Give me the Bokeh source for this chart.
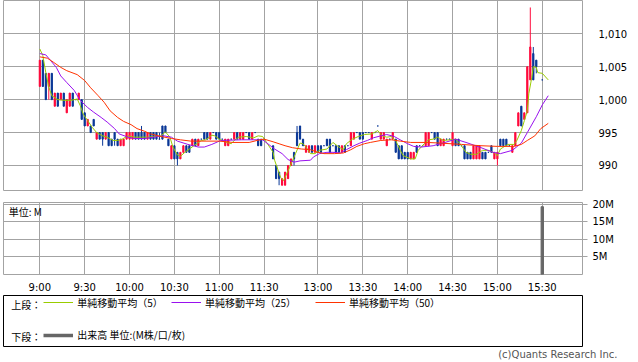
import numpy as np
from bokeh.plotting import figure
from bokeh.layouts import column
from bokeh.models import (ColumnDataSource, FixedTicker, NumeralTickFormatter, Legend,
                          LegendItem, Label, Range1d, Title)
from bokeh.core.properties import value
from bokeh.embed import file_html
from bokeh.resources import INLINE

# ---------------- data ----------------
tick_labels = ["9:00", "9:30", "10:00", "10:30", "11:00", "11:30",
               "13:00", "13:30", "14:00", "14:30", "15:00", "15:30"]
price_ticks = [990, 995, 1000, 1005, 1010]
volume_ticks = [5, 10, 15, 20]
volume_tick_labels = ["5M", "10M", "15M", "20M"]

# morning session, 2-minute bars from 9:00
am_open = [1002, 1006, 1004, 1002, 1004, 999, 1001, 1000, 1001, 998,
           999, 1001, 1000, 1000, 1000, 998, 996, 996, 997, 994,
           995, 995, 994, 995, 994, 995, 994, 993, 993, 994,
           994, 994, 995, 995, 995, 995, 994, 995, 995, 995,
           994, 996, 996, 994, 991, 993, 992, 991, 992, 993,
           993, 993, 994, 993, 994, 995, 995, 994, 995, 995,
           995, 994, 993, 993, 994, 994, 995, 994, 994, 995,
           995, 994, 995, 994, 994, 994]
am_high = [1006, 1006, 1004, 1004, 1004, 1001, 1001, 1001, 1001, 1000,
           1001, 1001, 1000, 1001, 1000, 998, 997, 996, 997, 995,
           995, 995, 995, 995, 994, 995, 994, 994, 994, 995,
           995, 995, 995, 995, 996, 995, 995, 995, 995, 995,
           995, 996, 996, 994, 993, 993, 992, 992, 993, 993,
           993, 994, 994, 994, 994, 995, 995, 995, 995, 995,
           995, 994, 994, 994, 994, 995, 995, 995, 995, 995,
           995, 995, 995, 994, 994, 994]
am_low = [1002, 1002, 1000, 1000, 1000, 999, 999, 1000, 999, 998,
          999, 999, 1000, 1000, 997, 996, 996, 995, 996, 994,
          994, 993, 994, 993, 993, 993, 993, 993, 993, 994,
          994, 994, 994, 994, 994, 994, 994, 994, 994, 994,
          994, 994, 995, 993, 991, 991, 990, 991, 992, 992,
          992, 993, 993, 993, 994, 994, 994, 994, 995, 994,
          994, 994, 993, 993, 994, 994, 994, 994, 994, 995,
          994, 994, 995, 993, 993, 994]
am_close = [1006, 1002, 1000, 1004, 1000, 1001, 999, 1001, 999, 1000,
            1001, 999, 1000, 1001, 997, 996, 997, 995, 996, 995,
            994, 994, 995, 993, 993, 994, 993, 994, 994, 995,
            995, 995, 994, 994, 994, 994, 995, 994, 994, 994,
            994, 994, 995, 993, 993, 991, 991, 992, 993, 992,
            992, 994, 993, 994, 994, 994, 994, 995, 995, 994,
            994, 994, 994, 994, 994, 995, 994, 995, 995, 995,
            994, 995, 995, 993, 993, 994]

# afternoon session, 2-minute bars from 12:30 (None = no trade)
pm_open = [993, 990, 989, 987, 987, 988, 990, 992, 995, 996,
           994, 992, 992, 993, 992, 993, 993, 993, 994, 994,
           993, 993, 993, 992, 993, 993, 993, 994, 995, 995,
           995, 995, 995, 994, 995, 996, 994, 994, 993, 994,
           994, 994, 993, 993, 992, 992, 991, 991, 993, 993,
           993, 993, 993, 995, 995, 995, 993, 993, 994, 994,
           993, 994, 994, 993, 993, 992, 992, 991, 991, 991,
           992, 992, 992, 993, 991, 991, 994, 994, 994, 993,
           992, 993, 996, 999, 997, 998, 1003, 1007, 1006, None,
           1003]
pm_high = [993, 990, 989, 988, 989, 990, 991, 992, 996, 996,
           994, 993, 993, 993, 993, 993, 993, 993, 994, 994,
           993, 993, 993, 993, 993, 993, 995, 995, 995, 995,
           995, 995, 995, 995, 995, 996, 995, 995, 994, 994,
           995, 994, 993, 993, 992, 992, 992, 992, 993, 993,
           993, 995, 995, 995, 995, 995, 994, 994, 994, 994,
           995, 994, 994, 993, 993, 992, 992, 993, 993, 993,
           992, 992, 992, 993, 992, 992, 994, 994, 994, 993,
           993, 995, 998, 999, 998, 1005, 1014, 1008, 1006, None,
           1003]
pm_low = [991, 988, 987, 987, 987, 988, 990, 990, 993, 994,
          993, 992, 992, 992, 992, 992, 992, 993, 993, 992,
          993, 992, 992, 992, 992, 993, 993, 994, 995, 994,
          994, 995, 995, 994, 995, 996, 994, 994, 993, 994,
          994, 992, 991, 991, 991, 991, 991, 991, 992, 993,
          993, 993, 993, 995, 994, 993, 993, 993, 994, 994,
          993, 993, 993, 993, 991, 991, 991, 991, 991, 991,
          991, 991, 992, 992, 991, 990, 993, 993, 993, 993,
          992, 993, 996, 996, 997, 998, 1003, 1003, 1004, None,
          1003]
pm_close = [991, 988, 988, 988, 989, 990, 991, 991, 993, 994,
            993, 993, 993, 992, 993, 992, 992, 993, 993, 992,
            993, 992, 992, 993, 992, 993, 995, 995, 995, 994,
            994, 995, 995, 995, 995, 996, 995, 995, 994, 994,
            995, 992, 991, 991, 991, 991, 992, 992, 992, 993,
            993, 995, 995, 995, 994, 993, 994, 994, 994, 994,
            995, 993, 993, 993, 991, 991, 991, 993, 993, 993,
            991, 991, 992, 992, 992, 992, 993, 993, 993, 993,
            993, 995, 998, 996, 998, 1005, 1008, 1003, 1005, None,
            1003]

ma5_times = ["9:00", "9:02", "9:04", "9:06", "9:08", "9:12", "9:16", "9:21", "9:25", "9:27",
             "9:29", "9:32", "9:35", "9:38", "9:42", "9:45", "9:49", "9:52", "9:55", "9:59",
             "10:03", "10:08", "10:12", "10:16", "10:21", "10:24", "10:27", "10:29", "10:32", "10:34",
             "10:37", "10:40", "10:43", "10:48", "10:51", "10:55", "10:57", "11:00", "11:05", "11:08",
             "11:10", "11:13", "11:18", "11:23", "11:26", "11:29",
             "12:30", "12:31", "12:35", "12:37", "12:39", "12:41", "12:45", "12:48", "12:50", "12:52",
             "12:55", "12:58", "13:01", "13:06", "13:10", "13:14", "13:17", "13:19", "13:23", "13:27",
             "13:31", "13:36", "13:40", "13:43", "13:46", "13:49", "13:52", "13:55", "13:57", "14:02",
             "14:05", "14:07", "14:11", "14:14", "14:17", "14:20", "14:24", "14:28", "14:32", "14:35",
             "14:39", "14:42", "14:46", "14:50", "14:54", "14:58", "15:00", "15:02", "15:07", "15:11",
             "15:13", "15:16", "15:18", "15:20", "15:21", "15:23", "15:24", "15:26", "15:27", "15:30",
             "15:34"]
ma5_values = [1007.7, 1006.7, 1004.1, 1001.9, 1000.6, 1000.0, 999.9, 999.9, 1000.1, 999.1,
              997.8, 996.8, 995.8, 995.0, 994.5, 994.3, 993.8, 993.8, 994.0, 994.5,
              994.3, 994.3, 994.3, 994.4, 994.5, 995.1, 994.3, 992.8, 991.6, 991.4,
              992.0, 992.5, 993.0, 993.8, 993.9, 994.6, 994.5, 994.0, 993.5, 993.3,
              993.8, 994.3, 994.4, 994.2, 994.5, 994.4,
              992.0, 990.8, 988.2, 987.7, 988.7, 989.7, 991.8, 993.4, 993.3, 992.8,
              991.8, 991.8, 992.3, 992.5, 993.5, 992.8, 992.4, 993.3, 994.0, 994.4,
              994.7, 994.8, 995.3, 994.5, 994.3, 994.4, 993.8, 992.3, 991.5, 991.0,
              991.0, 992.3, 993.3, 993.9, 994.0, 994.3, 993.8, 993.9, 994.0, 993.3,
              992.0, 991.7, 991.7, 992.3, 992.3, 991.9, 991.5, 992.5, 993.2, 993.2,
              993.8, 995.3, 996.8, 998.3, 1000.9, 1003.4, 1005.0, 1004.9, 1004.1, 1004.0,
              1003.0]

ma25_times = ["9:00", "9:04", "9:07", "9:11", "9:14", "9:18", "9:23", "9:27", "9:32", "9:36",
              "9:41", "9:45", "9:50", "9:53", "9:59", "10:03", "10:10", "10:16", "10:23", "10:28",
              "10:32", "10:39", "10:46", "10:50", "10:55", "10:59", "11:01", "11:15", "11:29",
              "12:31", "12:36", "12:40", "12:44", "12:48", "12:55", "12:57", "13:01", "13:06", "13:10",
              "13:15", "13:19", "13:24", "13:28", "13:33", "13:37", "13:42", "13:46", "13:51", "13:55",
              "14:00", "14:04", "14:09", "14:17", "14:25", "14:32", "14:39", "14:48", "14:57", "15:02",
              "15:10", "15:16", "15:20", "15:26", "15:30", "15:34"]
ma25_values = [1007.0, 1006.8, 1006.0, 1004.9, 1003.6, 1002.6, 1001.4, 999.9, 998.8, 998.1,
               997.3, 996.6, 995.6, 994.8, 994.3, 994.1, 994.1, 994.3, 994.5, 994.3,
               993.7, 993.2, 992.8, 992.8, 993.2, 993.6, 993.8, 993.9, 993.9,
               992.5, 991.8, 990.9, 990.5, 990.7, 990.8, 991.3, 991.8, 992.0, 992.0,
               991.9, 992.4, 993.0, 993.4, 993.8, 994.2, 994.5, 994.7, 994.4, 993.9,
               993.3, 992.9, 992.8, 993.0, 993.5, 994.0, 993.5, 992.8, 992.0, 991.8,
               992.3, 993.4, 995.0, 997.4, 999.2, 1000.6]

ma50_times = ["9:00", "9:05", "9:09", "9:14", "9:18", "9:25", "9:30", "9:34", "9:39", "9:43",
              "9:47", "9:52", "9:56", "10:01", "10:05", "10:10", "10:14", "10:21", "10:28", "10:34",
              "10:41", "11:00", "11:09", "11:20", "11:27", "11:30",
              "12:30", "12:34", "12:38", "12:43", "12:49", "12:55", "13:00", "13:04", "13:11", "13:17",
              "13:22", "13:26", "13:31", "13:35", "13:42", "13:49", "13:55", "14:02", "14:13", "14:22",
              "14:36", "14:49", "15:00", "15:11", "15:16", "15:20", "15:25", "15:29", "15:34"]
ma50_values = [1006.5, 1006.3, 1005.7, 1004.9, 1004.4, 1003.8, 1002.9, 1001.8, 1000.6, 999.6,
               998.3, 997.3, 996.7, 996.2, 995.6, 995.2, 994.8, 994.4, 994.1, 993.9,
               993.7, 993.7, 993.5, 993.5, 993.9, 994.0,
               993.6, 993.3, 993.0, 992.7, 992.5, 992.4, 992.0, 991.8, 991.8, 991.9,
               992.4, 992.9, 993.3, 993.5, 993.8, 993.9, 993.7, 993.5, 993.5, 993.4,
               993.2, 993.0, 992.9, 992.9, 993.2, 993.8, 994.5, 995.6, 996.4]

volume_times = ["15:30"]
volume_values = [19.3]   # millions

legend_ma_labels = ["単純移動平均（5）", "単純移動平均（25）", "単純移動平均（50）"]
legend_volume_label = "出来高 単位:(M株/口/枚)"

# ---------------- layout / style ----------------
PM_START_POS = 156          # axis position of 12:30 (lunch break compressed)
BAR_MINUTES = 2
X_START, X_END = -24.3, 362.9
UP_RED, DOWN_BLUE = "#ff0a3c", "#0a3796"
MA_COLORS = ["#99cc00", "#9911ee", "#ff3300"]
GRID = "#a3a3a3"
NUM_FONT = "DejaVu Sans"
JP_FONT = "Noto Sans CJK JP"


def to_pos(t):
    h, m = map(int, t.split(":"))
    mins = h * 60 + m
    if mins <= 11 * 60 + 30:
        return mins - 9 * 60
    return mins - (12 * 60 + 30) + PM_START_POS


def bar_times(start_min, n):
    return [f"{(start_min + BAR_MINUTES * i) // 60}:{(start_min + BAR_MINUTES * i) % 60:02d}"
            for i in range(n)]


times = bar_times(9 * 60, len(am_open)) + bar_times(12 * 60 + 30, len(pm_open))
o = np.array(am_open + pm_open, dtype=float)
h = np.array(am_high + pm_high, dtype=float)
lo = np.array(am_low + pm_low, dtype=float)
c = np.array(am_close + pm_close, dtype=float)
xs = [to_pos(t) for t in times]
candles = ColumnDataSource(dict(
    x=xs, top=np.maximum(o, c), bottom=np.minimum(o, c), high=h, low=lo,
    color=[UP_RED if cc > oo else DOWN_BLUE for oo, cc in zip(o, c)]))

tick_pos = [to_pos(t) for t in tick_labels]


def style_frame(p):
    p.outline_line_color = GRID
    p.outline_line_width = 1
    p.background_fill_color = "white"
    p.border_fill_color = "white"
    p.xgrid.ticker = FixedTicker(ticks=tick_pos)
    p.xgrid.grid_line_color = GRID
    p.ygrid.grid_line_color = GRID


# ---- upper: price ----
up = figure(width=638, height=196, x_range=Range1d(X_START, X_END),
            y_range=Range1d(986.2, 1015.06), x_axis_location=None, y_axis_location="right",
            toolbar_location=None, output_backend="svg",
            min_border_left=3, min_border_right=56, min_border_top=0, min_border_bottom=6)
style_frame(up)
up.ygrid.ticker = FixedTicker(ticks=price_ticks)
ya = up.yaxis[0]
ya.ticker = FixedTicker(ticks=price_ticks)
ya.formatter = NumeralTickFormatter(format="0,0")
ya.axis_line_color = None
ya.major_tick_line_color = None
ya.minor_tick_line_color = None
ya.major_label_standoff = 10
ya.major_label_text_font = NUM_FONT
ya.major_label_text_font_size = "10px"
ya.major_label_text_color = "black"

up.segment(x0="x", y0="low", x1="x", y1="high", color="color", line_width=1, source=candles)
up.vbar(x="x", width=0.8, top="top", bottom="bottom", fill_color="color",
        line_color="color", line_width=1, source=candles)
for tms, vals, col in zip([ma5_times, ma25_times, ma50_times],
                          [ma5_values, ma25_values, ma50_values], MA_COLORS):
    up.line([to_pos(t) for t in tms], vals, line_color=col, line_width=1)

# ---- lower: volume ----
low = figure(width=638, height=99, x_range=up.x_range, y_range=Range1d(0, 20.5),
             x_axis_location="below", y_axis_location="right",
             toolbar_location=None, output_backend="svg",
             min_border_left=3, min_border_right=56, min_border_top=6, min_border_bottom=14)
style_frame(low)
low.ygrid.ticker = FixedTicker(ticks=volume_ticks)
xa = low.xaxis[0]
xa.ticker = FixedTicker(ticks=tick_pos)
xa.major_label_overrides = {p: l for p, l in zip(tick_pos, tick_labels)}
xa.axis_line_color = None
xa.major_tick_line_color = None
xa.minor_tick_line_color = None
xa.major_label_standoff = 1
xa.major_label_text_font = NUM_FONT
xa.major_label_text_font_size = "10px"
xa.major_label_text_color = "black"
va = low.yaxis[0]
va.ticker = FixedTicker(ticks=volume_ticks)
va.major_label_overrides = {v: l for v, l in zip(volume_ticks, volume_tick_labels)}
va.axis_line_color = None
va.major_tick_line_color = GRID
va.major_tick_out = 5
va.major_tick_in = 0
va.minor_tick_line_color = None
va.major_label_standoff = 5
va.major_label_text_font = NUM_FONT
va.major_label_text_font_size = "10px"
va.major_label_text_color = "black"
low.vbar(x=[to_pos(t) for t in volume_times], top=volume_values, bottom=0, width=1.6,
         fill_color="#666666", line_color="#666666")
low.add_layout(Label(x=X_START + 3.5, y=20.2, text="単位: M", text_baseline="top",
                     text_align="left", text_font=JP_FONT, text_font_size="10px",
                     text_color="black"))

# ---- legend box ----
lf = figure(width=638, height=67, x_range=Range1d(0, 632), y_range=Range1d(0, 51),
            x_axis_location=None, y_axis_location=None, toolbar_location=None,
            output_backend="svg", min_border_left=3, min_border_right=3,
            min_border_top=0, min_border_bottom=16)
lf.grid.visible = False
lf.outline_line_color = "black"
lf.outline_line_width = 1
lf.border_fill_color = "white"

NO_POINT = [float("nan")]
ma_renderers = [lf.line(x=NO_POINT, y=NO_POINT, line_color=col, line_width=1)
                for col in MA_COLORS]
vol_renderer = lf.line(x=NO_POINT, y=NO_POINT, line_color="#666666", line_width=3.5)


def make_legend(label, renderer, loc):
    return Legend(items=[LegendItem(label=value(label), renderers=[renderer])],
                  location=loc, orientation="horizontal", padding=0, margin=0,
                  border_line_color=None, background_fill_alpha=0,
                  glyph_width=30, glyph_height=12, label_height=12, label_standoff=4,
                  label_text_font=JP_FONT, label_text_font_size="10px",
                  label_text_color="black")


for lab, r, lx in zip(legend_ma_labels, ma_renderers, [40.3, 168, 312]):
    lf.add_layout(make_legend(lab, r, (lx, 36.3)))
lf.add_layout(make_legend(legend_volume_label, vol_renderer, (40.3, 4)))
for txt, ty in [("上段：", 42.3), ("下段：", 10)]:
    lf.add_layout(Label(x=8.5, y=ty, text=txt, text_baseline="middle", text_align="left",
                        text_font=JP_FONT, text_font_size="10px", text_color="black"))
lf.add_layout(Title(text="(c)Quants Research Inc.", align="right", offset=-35, standoff=0,
                    vertical_align="bottom", text_font=NUM_FONT, text_font_size="10px",
                    text_font_style="normal", text_color="#555555"), "below")

layout = column(up, low, lf)
open("out.html", "w").write(file_html(layout, INLINE))
